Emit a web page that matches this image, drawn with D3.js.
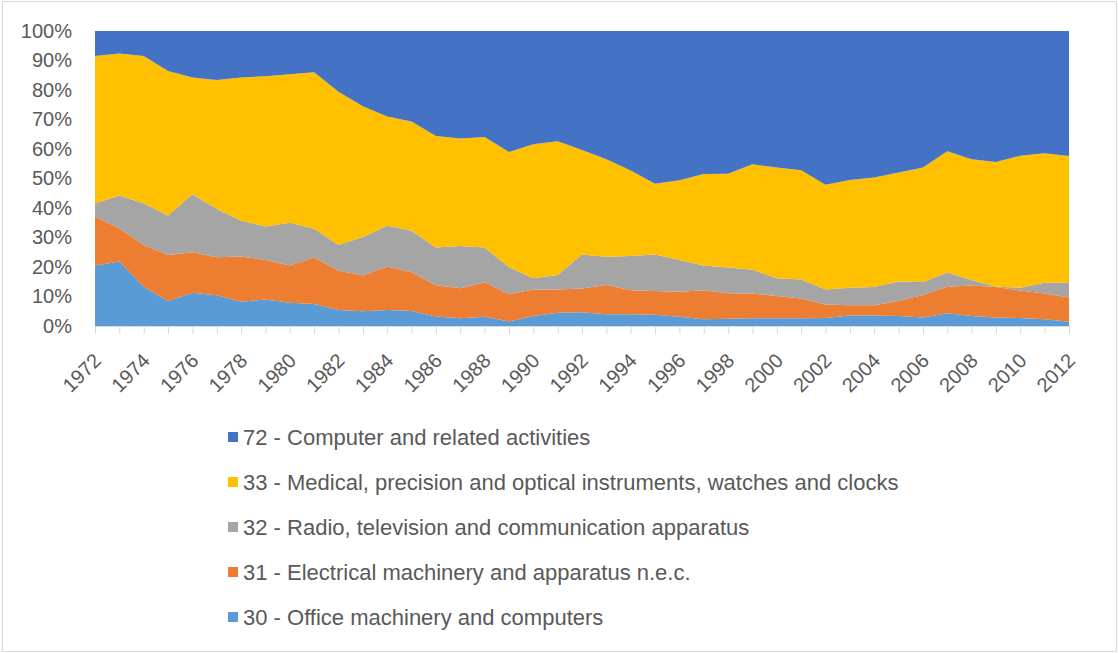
<!DOCTYPE html>
<html>
<head>
<meta charset="utf-8">
<script src="https://cdn.jsdelivr.net/npm/d3@7"></script>
<style>
  body { margin: 0; background: #fff; }
  text { font-family: "Liberation Sans", Arial, sans-serif; fill: #595959; }
</style>
</head>
<body>
<div id="chart"></div>
<script>
const years = [1972,1973,1974,1975,1976,1977,1978,1979,1980,1981,
  1982,1983,1984,1985,1986,1987,1988,1989,1990,1991,
  1992,1993,1994,1995,1996,1997,1998,1999,2000,2001,
  2002,2003,2004,2005,2006,2007,2008,2009,2010,2011,2012];

// shares in % per year
const office30 = [20.5,21.9,13.3,8.5,11.3,10.4,8.2,9.0,7.9,7.5,
  5.4,5.0,5.4,5.1,3.2,2.6,3.1,1.5,3.4,4.5,
  4.7,4.0,4.0,3.8,3.1,2.3,2.5,2.6,2.6,2.6,
  2.7,3.6,3.6,3.4,2.9,4.3,3.4,2.9,2.7,2.3,1.4];
const electrical31 = [16.6,11.2,14.2,15.6,13.7,12.9,15.4,13.4,12.6,15.7,
  13.4,12.1,14.8,13.1,10.6,10.2,11.7,9.3,9.0,7.9,
  8.0,9.9,8.1,8.1,8.5,9.8,8.6,8.4,7.6,6.7,
  4.6,3.4,3.4,5.1,7.6,9.0,10.3,10.3,9.3,8.7,8.3];
const radio32 = [4.4,11.1,14.0,13.4,19.7,16.4,12.1,11.3,14.5,9.8,
  8.7,13.1,13.8,14.1,12.8,14.3,11.8,9.1,3.8,4.9,
  11.5,9.6,11.6,12.3,10.8,8.4,8.7,8.1,6.0,6.5,
  5.1,6.0,6.2,6.6,4.4,4.8,1.9,0.1,1.0,3.7,5.0];
const medical33 = [50.0,48.2,50.0,48.9,39.5,43.7,48.5,51.0,50.3,53.0,
  51.9,44.3,37.0,37.0,37.8,36.5,37.5,39.1,45.4,45.3,
  35.5,33.0,29.0,24.0,27.0,31.0,31.8,35.7,37.5,37.0,
  35.5,36.5,37.1,36.9,38.8,41.1,40.9,42.3,44.7,43.9,42.9];
const computer72 = [8.5,7.6,8.5,13.6,15.8,16.6,15.8,15.3,14.7,14.0,
  20.6,25.5,29.0,30.7,35.6,36.4,35.9,41.0,38.4,37.4,
  40.3,43.5,47.3,51.8,50.6,48.5,48.4,45.2,46.3,47.2,
  52.1,50.5,49.7,48.0,46.3,40.8,43.5,44.4,42.3,41.4,42.4];

const seriesKeys = ['s30', 's31', 's32', 's33', 's72'];
const seriesLabels = {
  s72: '72 - Computer and related activities',
  s33: '33 - Medical, precision and optical instruments, watches and clocks',
  s32: '32 - Radio, television and communication apparatus',
  s31: '31 - Electrical machinery and apparatus n.e.c.',
  s30: '30 - Office machinery and computers',
};
const seriesColors = {
  s30: '#5B9BD5', s31: '#ED7D31', s32: '#A5A5A5', s33: '#FFC000', s72: '#4472C4'
};
const legendOrder = ['s72', 's33', 's32', 's31', 's30'];
const yTicks = [0, 0.1, 0.2, 0.3, 0.4, 0.5, 0.6, 0.7, 0.8, 0.9, 1];

const W = 1118, H = 653;
const plot = { l: 95, r: 1069, t: 31, b: 326 };

const rows = years.map((yr, i) => ({
  year: yr,
  s30: office30[i], s31: electrical31[i], s32: radio32[i],
  s33: medical33[i], s72: computer72[i],
}));

const svg = d3.select('#chart').append('svg')
  .attr('width', W)
  .attr('height', H);

// outer chart frame
svg.append('rect')
  .attr('x', 2.5).attr('y', 1.5)
  .attr('width', 1114).attr('height', 650)
  .attr('fill', '#fff')
  .attr('stroke', '#d9d9d9');

const x = d3.scaleLinear().domain([1972, 2012]).range([plot.l, plot.r]);
const y = d3.scaleLinear().domain([0, 1]).range([plot.b, plot.t]);

const stacked = d3.stack()
  .keys(seriesKeys)
  .offset(d3.stackOffsetExpand)(rows);

const area = d3.area()
  .x(d => x(d.data.year))
  .y0(d => y(d[0]))
  .y1(d => y(d[1]));

svg.append('g')
  .selectAll('path')
  .data(stacked)
  .join('path')
  .attr('d', area)
  .attr('fill', d => seriesColors[d.key]);

// x axis: tick every year, label every other year
const xg = svg.append('g')
  .attr('transform', `translate(0, ${plot.b})`)
  .call(d3.axisBottom(x)
    .tickValues(years)
    .tickSize(8)
    .tickFormat(d => d % 2 === 0 ? d : ''));
xg.select('.domain').attr('stroke', '#d9d9d9');
xg.selectAll('.tick line').attr('stroke', '#d9d9d9');
xg.selectAll('.tick text')
  .attr('x', 0).attr('y', 0).attr('dy', '0.35em')
  .attr('transform', 'translate(2, 31) rotate(-45)')
  .attr('text-anchor', 'end')
  .style('font-size', '20px')
  .style('font-family', '"Liberation Sans", Arial, sans-serif')
  .attr('fill', '#595959');

// y axis: percentage labels only
const yg = svg.append('g')
  .attr('transform', `translate(${plot.l}, 0)`)
  .call(d3.axisLeft(y)
    .tickValues(yTicks)
    .tickSize(0)
    .tickPadding(23)
    .tickFormat(d3.format('.0%')));
yg.select('.domain').remove();
yg.selectAll('.tick text')
  .style('font-size', '20px')
  .style('font-family', '"Liberation Sans", Arial, sans-serif')
  .attr('fill', '#595959');

// legend
const legend = svg.append('g')
  .selectAll('g')
  .data(legendOrder)
  .join('g')
  .attr('transform', (d, i) => `translate(228, ${437 + i * 45})`);
legend.append('rect')
  .attr('x', 0).attr('y', -5)
  .attr('width', 10).attr('height', 10)
  .attr('fill', d => seriesColors[d]);
legend.append('text')
  .attr('x', 15).attr('dy', '0.35em')
  .style('font-size', '22px')
  .text(d => seriesLabels[d]);
</script>
</body>
</html>
